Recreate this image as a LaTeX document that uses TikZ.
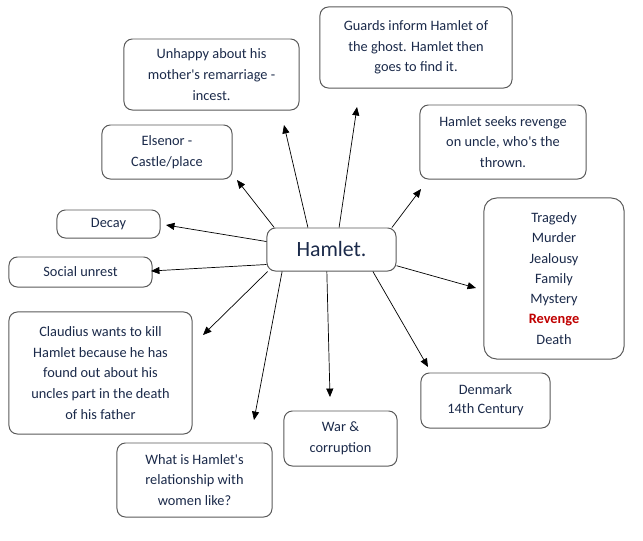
\documentclass[tikz,border=0pt]{standalone}
\usepackage{fontspec}
\setmainfont{Carlito}[Ligatures=TeXOff]
\usetikzlibrary{arrows.meta}
\definecolor{navy}{HTML}{1B2A4A}
\definecolor{revred}{HTML}{C00000}
\begin{document}
\begin{tikzpicture}[x=0.025cm, y=-0.025cm, font=\fontsize{10.2}{14.7}\selectfont, text=navy,
  box/.style={rectangle, draw=black!65, line width=0.7pt, rounded corners=6pt, align=center, inner sep=0pt, fill=white},
  link/.style={line width=0.5pt, -{Triangle[length=6pt, width=5pt]}}]
  \useasboundingbox (0,0) rectangle (643,540);
  \node[box, minimum width=3.225cm, minimum height=1.075cm, font=\fontsize{15.5}{18}\selectfont] (hamlet) at (331.5,249.5) {Hamlet.};
  \node[box, minimum width=4.8cm, minimum height=2.025cm] (guards) at (416,47.5) {Guards inform Hamlet of\\the ghost. Hamlet then\\goes to find it.};
  \node[box, minimum width=4.375cm, minimum height=1.775cm] (unhappy) at (211.5,74.5) {Unhappy about his\\mother's remarriage -\\incest.};
  \node[box, minimum width=3.25cm, minimum height=1.35cm] (elsenor) at (167,152) {Elsenor -\\Castle/place};
  \node[box, minimum width=4.15cm, minimum height=1.85cm] (seeks) at (503,142) {Hamlet seeks revenge\\on uncle, who's the\\thrown.};
  \node[box, minimum width=2.575cm, minimum height=0.7cm] (decay) at (108.5,224) {Decay};
  \node[box, minimum width=3.575cm, minimum height=0.75cm] (unrest) at (80.5,272) {Social unrest};
  \node[box, minimum width=3.5cm, minimum height=4.025cm, rounded corners=9pt, font=\fontsize{10.2}{14.4}\selectfont] (themes) at (554,278.5)
    {Tragedy\\Murder\\Jealousy\\Family\\Mystery\\{\color{revred}\bfseries Revenge}\\Death};
  \node[box, minimum width=4.575cm, minimum height=3.05cm] (claudius) at (100.5,373) {Claudius wants to kill\\Hamlet because he has\\found out about his\\uncles part in the death\\of his father};
  \node[box, minimum width=3.225cm, minimum height=1.375cm, font=\fontsize{10.2}{13.5}\selectfont] (denmark) at (485.5,400.5) {Denmark\\14th Century};
  \node[box, minimum width=2.825cm, minimum height=1.375cm] (war) at (340.5,438.5) {War \&\\corruption};
  \node[box, minimum width=3.875cm, minimum height=1.85cm] (women) at (194.5,480) {What is Hamlet's\\relationship with\\women like?};
  % arrow tips
  \coordinate (tguards) at (357,107);
  \coordinate (tunhappy) at (284,125);
  \coordinate (telsenor) at (237,180);
  \coordinate (tseeks) at (421,189);
  \coordinate (tdecay) at (166,225);
  \coordinate (tunrest) at (151,271);
  \coordinate (tthemes) at (476,288);
  \coordinate (tclaudius) at (203,335);
  \coordinate (twomen) at (254,420);
  \coordinate (twar) at (330,397);
  \coordinate (tdenmark) at (428,367);
  \draw[link] (hamlet.71.6) -- (tguards);
  \draw[link] (hamlet.137.4) -- (tunhappy);
  \draw[link] (hamlet.159) -- (telsenor);
  \draw[link] (hamlet.20) -- (tseeks);
  \draw[link] (hamlet.173.4) -- (tdecay);
  \draw[link] (hamlet.193.5) -- (tunrest);
  \draw[link] (hamlet.-14.3) -- (tthemes);
  \draw[link] (hamlet.199.5) -- (tclaudius);
  \draw[link] (hamlet.204.9) -- (twomen);
  \draw[link] (hamlet.258.7) -- (twar);
  \draw[link] (hamlet.332.1) -- (tdenmark);
\end{tikzpicture}
\end{document}
